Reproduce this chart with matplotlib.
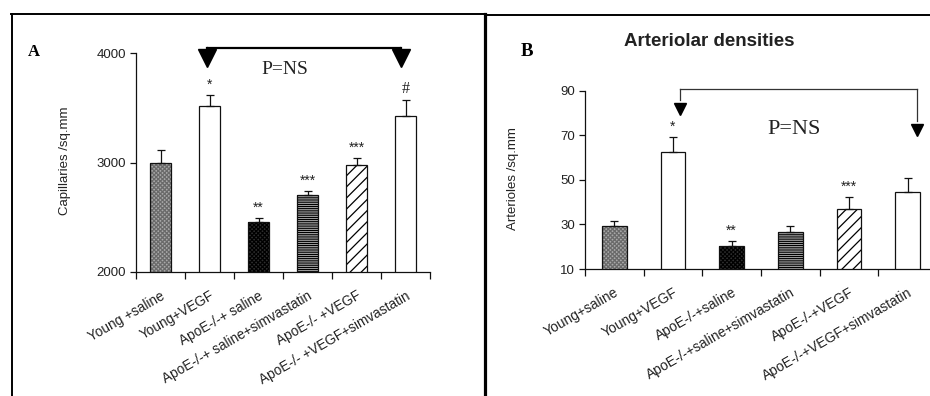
import numpy as np
import matplotlib
matplotlib.use("Agg")
import matplotlib.pyplot as plt
from matplotlib.lines import Line2D
from matplotlib.transforms import ScaledTranslation

# ---- data -------------------------------------------------------------
groups_a = ["Young +saline", "Young+VEGF", "ApoE-/-+ saline",
            "ApoE-/-+ saline+simvastatin", "ApoE-/- +VEGF",
            "ApoE-/- +VEGF+simvastatin"]
capillaries = [3000, 3515, 2455, 2700, 2980, 3425]
capillaries_err = [115, 100, 35, 40, 60, 150]
marks_a = ["", "*", "**", "***", "***", "#"]

groups_b = ["Young+saline", "Young+VEGF", "ApoE-/-+saline",
            "ApoE-/-+saline+simvastatin", "ApoE-/-+VEGF",
            "ApoE-/-+VEGF+simvastatin"]
arterioles = [29.4, 62.5, 20.3, 26.5, 36.8, 44.4]
arterioles_err = [2.0, 6.8, 2.4, 2.6, 5.6, 6.3]
marks_b = ["", "*", "**", "", "***", ""]

yticks_a = [2000, 3000, 4000]
yticks_b = [10, 30, 50, 70, 90]

# ---- styling ----------------------------------------------------------
plt.rcParams["font.family"] = ["Liberation Sans", "DejaVu Sans"]
plt.rcParams["hatch.linewidth"] = 0.9
SERIF = ["Liberation Serif", "DejaVu Serif"]
TXT = "#222222"

bar_styles = [
    dict(face="#a9a9a9", hatch="xxxxxxxx", hcolor="#6a6a6a"),  # dotted grey
    dict(face="white", hatch=None, hcolor="white"),            # open
    dict(face="#2e2e2e", hatch="xxxxxxxx", hcolor="#000000"),  # dark
    dict(face="white", hatch="---------", hcolor="#000000"),   # stripes
    dict(face="white", hatch="///", hcolor="#000000"),         # diagonal
    dict(face="white", hatch=None, hcolor="white"),            # open
]

W, H = 930, 396
fig = plt.figure(figsize=(W / 100, H / 100), dpi=100)


def px_axes(left, top, right, bottom):
    return fig.add_axes([left / W, 1 - bottom / H, (right - left) / W,
                         (bottom - top) / H])


def draw_panel(ax, values, errs, labels, marks, yticks, width, ylabel,
               label_x, label_size, star_size):
    x = np.arange(len(values)) + 0.5
    for xi, v, st in zip(x, values, bar_styles):
        ax.bar(xi, v, width=width, color=st["face"], edgecolor=st["hcolor"],
               linewidth=0, hatch=st["hatch"], zorder=2)
        ax.bar(xi, v, width=width, fill=False, edgecolor="#111111",
               linewidth=0.9, zorder=3)
    ax.errorbar(x, values, yerr=[np.zeros(len(errs)), errs], fmt="none",
                ecolor="#111111", elinewidth=0.9, capsize=3, capthick=0.9,
                zorder=4)
    for xi, v, e, m in zip(x, values, errs, marks):
        if m:
            fs = 11.5 if m == "#" else star_size
            fam = SERIF if m == "#" else None
            ax.annotate(m, (xi, v + e), xytext=(0, 4.5),
                        textcoords="offset points", ha="center",
                        va="baseline", fontsize=fs, family=fam, color=TXT)

    ax.set_xlim(0, len(values))
    ax.set_ylim(yticks[0], yticks[-1])
    ax.set_yticks(yticks)
    ax.set_xticks(x)
    ax.set_xticklabels(labels, rotation=30, ha="right",
                       rotation_mode="anchor", fontsize=label_size, color=TXT)
    nudge = ScaledTranslation(-4 / 100, 0, fig.dpi_scale_trans)
    for lab in ax.get_xticklabels():
        lab.set_transform(lab.get_transform() + nudge)
    ax.set_xticks(np.arange(len(values) + 1), minor=True)
    ax.tick_params(axis="x", which="major", length=0, pad=12)
    ax.tick_params(axis="x", which="minor", length=5, width=0.9,
                   direction="out", color="#111111")
    ax.tick_params(axis="y", length=4, width=0.9, direction="out",
                   labelsize=9.5, labelcolor=TXT, color="#111111", pad=3)
    for s in ("top", "right"):
        ax.spines[s].set_visible(False)
    for s in ("left", "bottom"):
        ax.spines[s].set_linewidth(0.9)
        ax.spines[s].set_color("#111111")
    ax.set_ylabel(ylabel, fontsize=9.5, color=TXT)
    ax.yaxis.set_label_coords(label_x, 0.51)
    ax.patch.set_alpha(0)


# ---- panel A: capillary densities -------------------------------------
ax_a = px_axes(136, 53, 430, 272)
draw_panel(ax_a, capillaries, capillaries_err, groups_a, marks_a, yticks_a,
           0.43, "Capillaries /sq.mm", -0.222, 9.8, 10)

# P=NS bracket between Young+VEGF and ApoE-/-+VEGF+simvastatin
ax_a.plot([1.45, 5.4], [4046, 4046], color="black", lw=1.6, clip_on=False,
          solid_capstyle="butt")
for xa in (1.45, 5.4):
    ax_a.plot([xa, xa], [4046, 4000], color="black", lw=1.6, clip_on=False)
    ax_a.plot(xa, 3955, marker="v", markersize=13.5, color="black",
              clip_on=False)
ax_a.text(3.03, 3845, "P=NS", family=SERIF, fontsize=14, ha="center",
          va="center", color=TXT)

# ---- panel B: arteriolar densities ------------------------------------
ax_b = px_axes(585, 90.7, 937, 269)
draw_panel(ax_b, arterioles, arterioles_err, groups_b, marks_b, yticks_b,
           0.42, "Arterioles /sq.mm", -0.187, 10, 10)

ax_b.plot([1.62, 5.66], [90.6, 90.6], color="#333333", lw=0.9,
          clip_on=False)
ax_b.plot([1.62, 1.62], [90.6, 86], color="#333333", lw=0.9, clip_on=False)
ax_b.plot([5.66, 5.66], [90.6, 76.5], color="#333333", lw=0.9, clip_on=False)
ax_b.plot(1.62, 81.9, marker="v", markersize=9, color="black", clip_on=False)
ax_b.plot(5.66, 72.5, marker="v", markersize=9, color="black", clip_on=False)
ax_b.text(3.56, 72.4, "P=NS", family=SERIF, fontsize=16, ha="center",
          va="center", color=TXT)

# ---- panel letters, title and frames ----------------------------------
fig.text(34 / W, 1 - 52 / H, "A", family=SERIF, fontweight="bold",
         fontsize=12, ha="center", va="center", color="black")
fig.text(527 / W, 1 - 52 / H, "B", family=SERIF, fontweight="bold",
         fontsize=13.5, ha="center", va="center", color="black")
fig.text(709 / W, 1 - 41 / H, "Arteriolar densities", fontweight="bold",
         fontsize=13.5, ha="center", va="center", color=TXT)

frame = [
    ((11.5, 11.5), (14, 396), 1.4),
    ((11, 485), (14, 14), 1.4),
    ((485, 485), (14, 396), 2.3),
    ((485, 930), (15, 15), 1.4),
]
for xs, ys, lw in frame:
    fig.add_artist(Line2D([x / W for x in xs], [1 - y / H for y in ys],
                          color="black", lw=lw))

fig.savefig("out.png", dpi=100, facecolor="white")
